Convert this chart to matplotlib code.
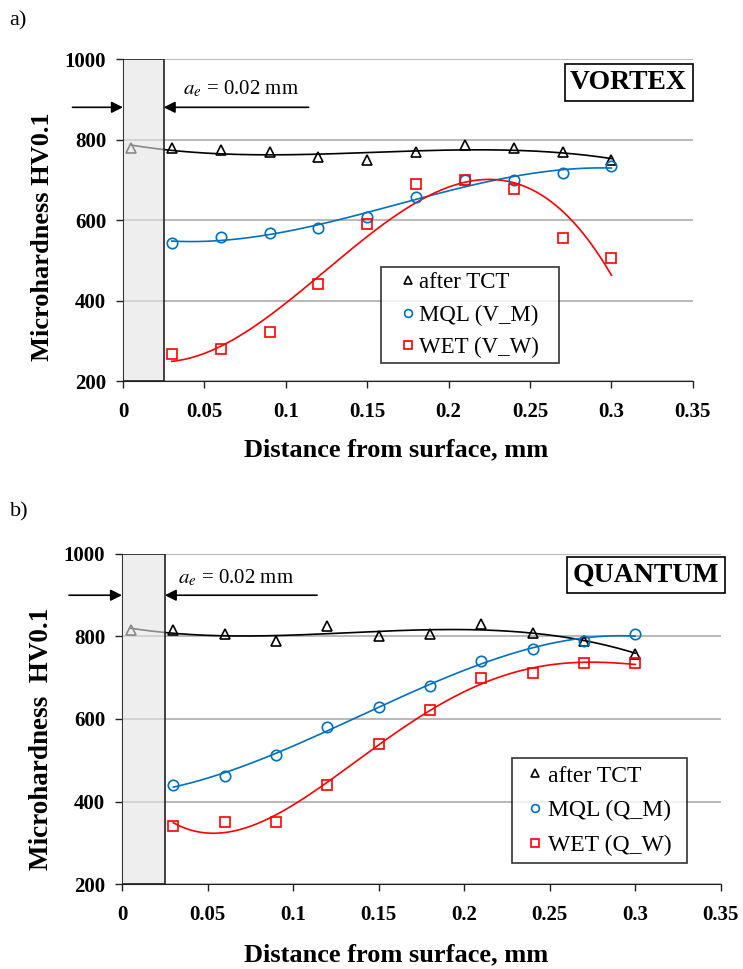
import numpy as np
import matplotlib
matplotlib.use("Agg")
import matplotlib.pyplot as plt
from matplotlib.patches import Rectangle

plt.rcParams['font.family'] = ['Liberation Serif', 'DejaVu Serif']
plt.rcParams['mathtext.fontset'] = 'stix'

# данные
x_tct = [0.005, 0.03, 0.06, 0.09, 0.12, 0.15, 0.18, 0.21, 0.24, 0.27, 0.30]
x_cool = [0.03, 0.06, 0.09, 0.12, 0.15, 0.18, 0.21, 0.24, 0.27, 0.30]

# a) VORTEX
tct_a = [778, 778, 775, 768, 757, 750, 768, 787, 778, 768, 748]
mql_a = [543, 558, 568, 580, 607, 657, 700, 700, 718, 733]
wet_a = [268, 280, 322, 442, 590, 690, 700, 678, 555, 505]

# b) QUANTUM
tct_b = [815, 815, 805, 790, 825, 800, 805, 830, 808, 790, 758]
mql_b = [440, 462, 512, 580, 630, 680, 740, 770, 790, 805]
wet_b = [340, 350, 350, 440, 540, 622, 700, 712, 735, 735]

labels_a = ["after TCT", "MQL (V_M)", "WET (V_W)"]
labels_b = ["after TCT", "MQL (Q_M)", "WET (Q_W)"]

blue = "#0070C0"
red = "#FF0000"


# полиномиальная линия тренда
def trend(ax, x, y, deg, color):
    p = np.polyfit(x, y, deg)
    xs = np.linspace(min(x), max(x), 200)
    ax.plot(xs, np.polyval(p, xs), color=color, lw=1.2, zorder=3)


def panel(ax, tct, mql, wet, labels, degs, name, name_pos, arrow_y, text_y, text_x,
          leg_box, leg_kw, ylabel, ylab_pos, ylab_fs, xlab_pos):
    ax.set_xlim(0, 0.35)
    ax.set_ylim(200, 1000)
    ax.set_xticks(np.arange(0, 0.351, 0.05))
    ax.set_xticklabels(["0", "0.05", "0.1", "0.15", "0.2", "0.25", "0.3", "0.35"])
    ax.set_yticks([200, 400, 600, 800, 1000])
    ax.yaxis.grid(True, color="#a6a6a6", lw=1.1)
    ax.set_axisbelow(True)
    for s in ["top", "right"]:
        ax.spines[s].set_visible(False)
    for s in ["left", "bottom"]:
        ax.spines[s].set_color("#222222")
    ax.tick_params(direction="out", length=5, width=1, labelsize=15, color="#222222")
    ax.tick_params(axis="y", pad=7)
    ax.tick_params(axis="x", pad=10)
    for t in ax.get_xticklabels() + ax.get_yticklabels():
        t.set_fontweight("bold")

    trend(ax, x_tct, tct, degs[0], "black")
    trend(ax, x_cool, mql, degs[1], blue)
    trend(ax, x_cool, wet, degs[2], red)

    ax.plot(x_tct, tct, "^", ms=7, mfc="none", mec="black", mew=1.2,
            label=labels[0], zorder=4)
    ax.plot(x_cool, mql, "o", ms=7.5, mfc="none", mec=blue, mew=1.2,
            label=labels[1], zorder=4)
    ax.plot(x_cool, wet, "s", ms=7.5, mfc="none", mec=red, mew=1.2,
            label=labels[2], zorder=4)

    # зона a_e
    ax.add_patch(Rectangle((0, 200), 0.025, 800, facecolor="#e4e4e4",
                           edgecolor="none", alpha=0.6, zorder=5))
    ax.add_patch(Rectangle((0, 200), 0.025, 800, facecolor="none",
                           edgecolor="#222222", lw=1.2, zorder=6))

    ax.annotate("", xy=(0, arrow_y), xytext=(-0.031, arrow_y),
                arrowprops=dict(arrowstyle="-|>", color="black", lw=1.2,
                                mutation_scale=17, shrinkA=0, shrinkB=0),
                annotation_clip=False, zorder=7)
    ax.annotate("", xy=(0.025, arrow_y), xytext=(0.114, arrow_y),
                arrowprops=dict(arrowstyle="-|>", color="black", lw=1.2,
                                mutation_scale=17, shrinkA=0, shrinkB=0),
                annotation_clip=False, zorder=7)
    ax.text(text_x, text_y, r"$a_e$ = 0.02 mm", fontsize=15, va="center",
            ha="left", zorder=7)

    ax.text(name_pos[0], name_pos[1], name, transform=ax.transAxes, ha="right", va="top",
            fontsize=20, fontweight="bold", zorder=8,
            bbox=dict(boxstyle="square,pad=0.2", fc="white", ec="black", lw=1.2))

    leg = ax.legend(loc="lower left", bbox_to_anchor=leg_box, mode="expand",
                    frameon=True, fancybox=False, edgecolor="black",
                    markerscale=0.75, borderaxespad=0, **leg_kw)
    leg.get_frame().set_linewidth(1.2)
    leg.set_zorder(9)

    ax.set_ylabel(ylabel, fontsize=ylab_fs, fontweight="bold", va="center")
    ax.yaxis.set_label_coords(ylab_pos[0], ylab_pos[1])
    ax.set_xlabel("Distance from surface, mm", fontsize=19, fontweight="bold")
    ax.xaxis.set_label_coords(xlab_pos[0], xlab_pos[1])
    ax.xaxis.label.set_va("center")


fig = plt.figure(figsize=(7.43, 9.69), dpi=100)
ax1 = fig.add_axes([0.1655, 0.6068, 0.767, 0.3323])
ax2 = fig.add_axes([0.1642, 0.0877, 0.806, 0.3406])

panel(ax1, tct_a, mql_a, wet_a, labels_a, (3, 3, 3), "VORTEX", (0.990, 0.966),
      880, 925, 0.037,
      (0.453, 0.056, 0.312, 0.2),
      dict(fontsize=16.5, borderpad=0.23, labelspacing=0.48,
           handlelength=1.9, handletextpad=-0.47),
      "Microhardness HV0.1", (-0.142, 0.449), 19, (0.479, -0.214))
panel(ax2, tct_b, mql_b, wet_b, labels_b, (3, 3, 4), "QUANTUM", (0.997, 0.973),
      900, 942, 0.033,
      (0.651, 0.064, 0.292, 0.2),
      dict(fontsize=17, borderpad=0.29, labelspacing=0.56,
           handlelength=1.37, handletextpad=-0.14),
      "Microhardness  HV0.1", (-0.134, 0.44), 19.5, (0.458, -0.215))

fig.text(0.013, 0.978, "a)", fontsize=16, va="center")
fig.text(0.013, 0.472, "b)", fontsize=16, va="center")

fig.savefig("out.png", dpi=100)
